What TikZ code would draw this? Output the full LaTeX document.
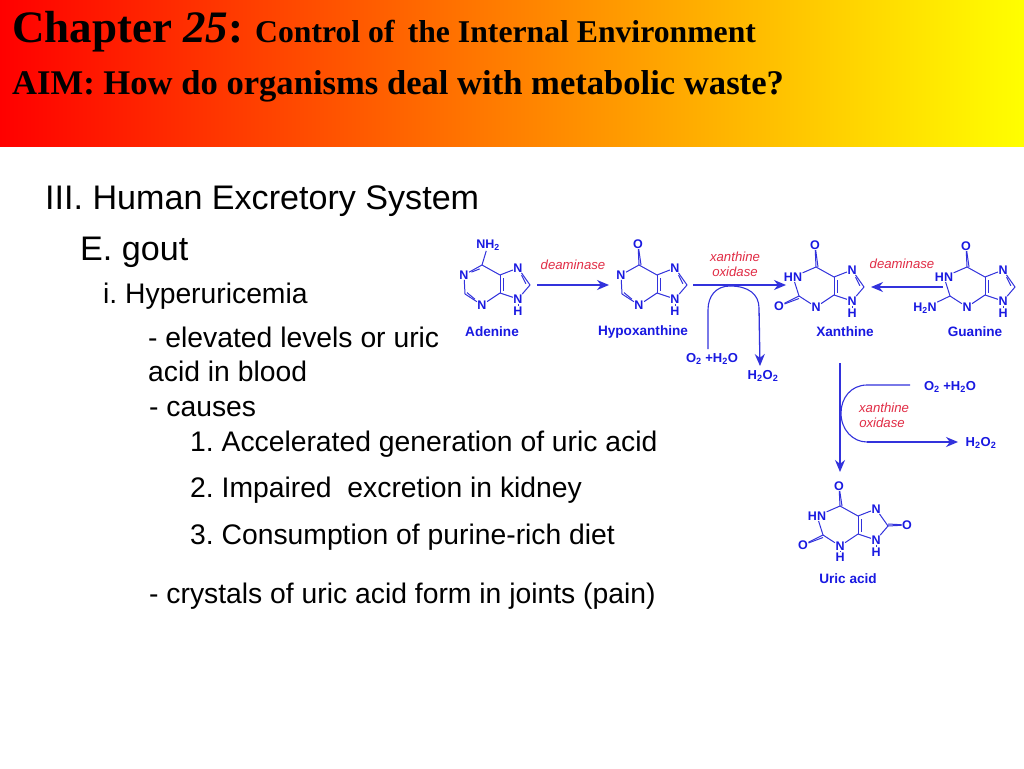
\documentclass[tikz,border=0pt]{standalone}
\usepackage{fontspec}
\setmainfont{Liberation Sans}
\newfontfamily\titlefont{Liberation Serif}
\usetikzlibrary{arrows.meta}
\definecolor{chemblue}{RGB}{25,25,225}
\definecolor{bondblue}{RGB}{50,50,220}
\definecolor{enzred}{RGB}{225,45,70}
\tikzset{
  x=1pt,y=-1pt,
  atom/.style={text=chemblue,font=\fontsize{12.5}{12.5}\selectfont\bfseries,inner sep=0.4pt},
  bond/.style={draw=bondblue,line width=1pt},
  dbl/.style={bond,shorten <=2.5pt,shorten >=2.5pt},
  molname/.style={text=chemblue,font=\fontsize{13.6}{14}\selectfont\bfseries,inner sep=0},
  rxn/.style={draw=bondblue,line width=1.3pt,-{Stealth[length=12pt,width=10pt]}},
  path curve/.style={draw=bondblue,line width=1.1pt},
  enzyme/.style={text=enzred,font=\fontsize{13.2}{14}\selectfont\itshape,inner sep=0},
  species/.style={text=chemblue,font=\fontsize{13}{14}\selectfont\bfseries,inner sep=0},
  body/.style={anchor=base west,inner sep=0,text=black,font=\fontsize{28.3}{30}\selectfont},
  bodybig/.style={anchor=base west,inner sep=0,text=black,font=\fontsize{34.1}{36}\selectfont},
  head/.style={anchor=base west,inner sep=0,text=black},
}
\newcommand{\purine}[6]{%
  \begin{scope}[shift={(#2,#3)},name prefix=#1-]
    \coordinate (c6) at (482,265);
    \coordinate (c5) at (500,275);
    \coordinate (c4) at (500,293);
    \coordinate (c2) at (465,294);
    \coordinate (c8) at (530,285);
    \node[atom] (n1) at (#5,275) {#4};
    \node[atom] (n3) at (482,305) {N};
    \node[atom] (n7) at (518,268) {N};
    \node[atom] (n9) at (518,299) {N};
    \node[atom] (h9) at (518,311) {H};
    \draw[bond] (c6) -- (n1);
    \draw[bond] (n1) -- (c2);
    \draw[bond] (c2) -- (n3);
    \draw[bond] (n3) -- (c4);
    \draw[bond] (c4) -- (c5);
    \draw[bond] (c5) -- (c6);
    \draw[bond] (c5) -- (n7);
    \draw[bond] (n7) -- (c8);
    \draw[bond] (c8) -- (n9);
    \draw[bond] (n9) -- (c4);
    \draw[bond] (n9) -- (h9);
    \draw[dbl] ([xshift=3pt]c4) -- ([xshift=3pt]c5);
    #6
  \end{scope}}
\begin{document}
\frenchspacing
\begin{tikzpicture}
\useasboundingbox (0,0) rectangle (1024,768);
\fill[white] (0,0) rectangle (1024,768);
\shade[left color=red,right color=yellow] (0,0) rectangle (1024,146);

\node[head] (t1) at (12,43) {\titlefont\bfseries\fontsize{45}{47}\selectfont Chapter \textit{25}:};
\node[head] (t2) at (255,43) {\titlefont\bfseries\fontsize{31.7}{33}\selectfont Control of\, the Internal Environment};
\node[head] (t3) at (12,94) {\titlefont\bfseries\fontsize{34.6}{36}\selectfont AIM: How do organisms deal with metabolic waste?};

\node[bodybig] (b1) at (45,209) {III. Human Excretory System};
\node[bodybig] (b2) at (80,260) {E. gout};
\node[body] (b3) at (103,303) {i. Hyperuricemia};
\node[body] (b4) at (148,347) {- elevated levels or uric};
\node[body] (b5) at (148,381) {acid in blood};
\node[body] (b6) at (149,416) {- causes};
\node[body] (b7) at (190,451) {1. Accelerated generation of uric acid};
\node[body] (b8) at (190,497) {2. Impaired\ \ excretion in kidney};
\node[body] (b9) at (190,544) {3. Consumption of purine-rich diet};
\node[body] (b10) at (149,603) {- crystals of uric acid form in joints (pain)};

% Adenine
\purine{ade}{0}{0}{N}{464}{%
  \node[atom] (nh) at (488,245) {NH\textsubscript{2}};
  \draw[bond] (c6) -- (nh);
  \draw[dbl] ([xshift=1pt,yshift=-3pt]n1) -- ([xshift=0pt,yshift=-3pt]c6);
  \draw[dbl] ([yshift=3pt]c2) -- ([yshift=3pt]n3);
  \draw[dbl] ([xshift=-3pt,yshift=-1pt]c8) -- ([xshift=-3pt,yshift=-1pt]n7);
}
% Hypoxanthine
\purine{hyp}{157}{0}{N}{464}{%
  \node[atom] (o) at (481,244) {O};
  \draw[bond] (c6) -- (o);
  \draw[bond] ([xshift=2pt]c6) -- ([xshift=2pt]o);
  \draw[dbl] ([yshift=3pt]c2) -- ([yshift=3pt]n3);
  \draw[dbl] ([xshift=-3pt,yshift=-1pt]c8) -- ([xshift=-3pt,yshift=-1pt]n7);
}
% Xanthine
\purine{xan}{334}{2}{HN}{459}{%
  \node[atom] (o) at (481,243) {O};
  \node[atom] (o2) at (445,304) {O};
  \draw[bond] (c6) -- (o);
  \draw[bond] ([xshift=2pt]c6) -- ([xshift=2pt]o);
  \draw[bond] (c2) -- (o2);
  \draw[bond] ([yshift=-2.5pt]c2) -- ([yshift=-2.5pt]o2);
  \draw[dbl] ([xshift=-3pt,yshift=-1pt]c8) -- ([xshift=-3pt,yshift=-1pt]n7);
}
% Guanine
\purine{gua}{485}{2}{HN}{459}{%
  \node[atom] (o) at (481,244) {O};
  \node[atom] (nh2) at (440,306) {H\textsubscript{2}N};
  \draw[bond] (c6) -- (o);
  \draw[bond] ([xshift=2pt]c6) -- ([xshift=2pt]o);
  \draw[bond] (c2) -- (nh2);
  \draw[dbl] ([xshift=-3pt,yshift=-1pt]c8) -- ([xshift=-3pt,yshift=-1pt]n7);
}
% Uric acid
\purine{uri}{358}{241}{HN}{459}{%
  \node[atom] (o) at (481,245) {O};
  \node[atom] (o2) at (445,304) {O};
  \node[atom] (o8) at (549,284) {O};
  \node[atom] (h3) at (482,316) {H};
  \draw[bond] (c6) -- (o);
  \draw[bond] ([xshift=2pt]c6) -- ([xshift=2pt]o);
  \draw[bond] (c2) -- (o2);
  \draw[bond] ([yshift=-2.5pt]c2) -- ([yshift=-2.5pt]o2);
  \draw[bond] (c8) -- (o8);
  \draw[bond] ([yshift=2pt]c8) -- ([yshift=2pt]o8);
  \draw[bond] (n3) -- (h3);
}

% Names
\node[molname] (nade) at (492,332) {Adenine};
\node[molname] (nhyp) at (643,332) {Hypoxanthine};
\node[molname] (nxan) at (845,332) {Xanthine};
\node[molname] (ngua) at (975,332) {Guanine};
\node[molname] (nuri) at (848,579) {Uric acid};

% Enzymes
\node[enzyme] (e1) at (573,265) {deaminase};
\node[enzyme] (e2) at (735,257) {xanthine};
\node[enzyme] (e3) at (735,272) {oxidase};
\node[enzyme] (e4) at (902,264) {deaminase};
\node[enzyme] (e5) at (884,408) {xanthine};
\node[enzyme] (e6) at (882,423) {oxidase};

% Species
\node[species] (s1) at (712,359) {O\textsubscript{2} +H\textsubscript{2}O};
\node[species] (s2) at (763,376) {H\textsubscript{2}O\textsubscript{2}};
\node[species] (s3) at (950,387) {O\textsubscript{2} +H\textsubscript{2}O};
\node[species] (s4) at (981,443) {H\textsubscript{2}O\textsubscript{2}};

% Reaction arrows
\coordinate (r1a) at (537,285);
\coordinate (r1b) at (609,285);
\coordinate (r2a) at (693,285);
\coordinate (r2b) at (786,285);
\coordinate (r3a) at (943,287);
\coordinate (r3b) at (871,287);
\coordinate (r4a) at (840,363);
\coordinate (r4b) at (840,472);
\draw[rxn] (r1a) -- (r1b);
\draw[rxn] (r2a) -- (r2b);
\draw[rxn] (r3a) -- (r3b);
\draw[rxn] (r4a) -- (r4b);

\coordinate (c1a) at (708,349);
\coordinate (c1b) at (708,310);
\coordinate (c1c) at (730,286);
\coordinate (c1d) at (759,308);
\coordinate (c1e) at (760,366);
\draw[path curve] (c1a) -- (c1b) .. controls (708,296) and (716,286) .. (c1c);
\draw[path curve] (c1c) .. controls (748,286) and (759,294) .. (c1d);
\draw[rxn] (c1d) -- (c1e);

\coordinate (c2a) at (910,385);
\coordinate (c2b) at (867,385);
\coordinate (c2c) at (841,413);
\coordinate (c2d) at (867,442);
\coordinate (c2e) at (958,442);
\draw[path curve] (c2a) -- (c2b) .. controls (851,385) and (841,398) .. (c2c);
\draw[path curve] (c2c) .. controls (841,430) and (853,442) .. (c2d);
\draw[rxn] (c2d) -- (c2e);
\end{tikzpicture}
\end{document}
